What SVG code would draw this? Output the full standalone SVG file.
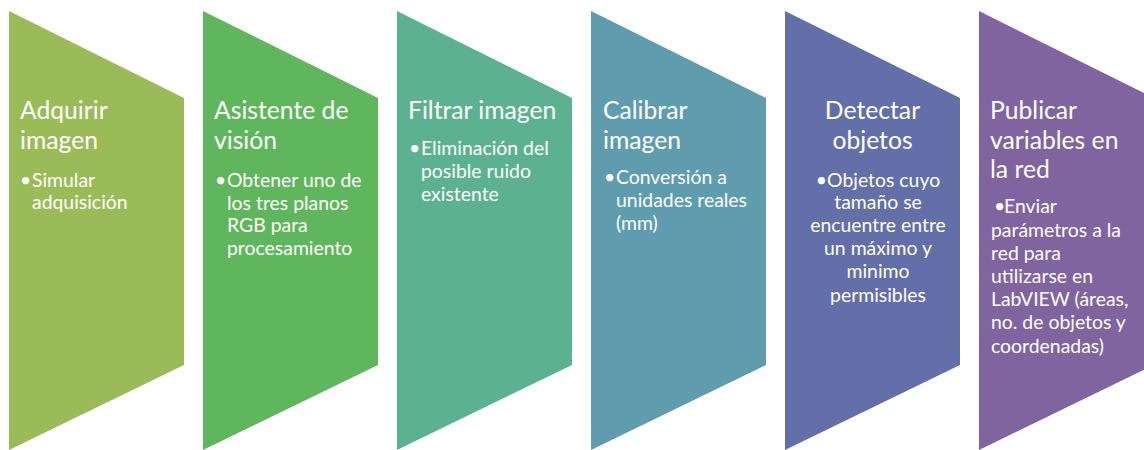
<svg xmlns="http://www.w3.org/2000/svg" width="1144" height="450" viewBox="0 0 1144 450">
<style>
text { font-family: Lato, "Open Sans", "Liberation Sans", sans-serif; fill: #ffffff; }
.t { font-size: 24.7px; }
.b { font-size: 19.4px; }
.c { text-anchor: middle; }
</style>
<defs>
<path id="chev" d="M0,11 L175,98 L175,365 L0,450 Z"/>
</defs>
<rect width="1144" height="450" fill="#ffffff"/>
<g id="node1">
<use href="#chev" x="9" fill="#9BBB59"/>
<text class="t" x="20" y="119">Adquirir</text>
<text class="t" x="20" y="149">imagen</text>
<text class="b" x="20" y="187">•</text>
<text class="b" x="32" y="187">Simular</text>
<text class="b" x="32" y="209">adquisición</text>
</g>
<g id="node2">
<use href="#chev" x="203" fill="#60B65C"/>
<text class="t" x="214" y="119">Asistente de</text>
<text class="t" x="214" y="149">visión</text>
<text class="b" x="215" y="187">•</text>
<text class="b" x="227" y="187">Obtener uno de</text>
<text class="b" x="227" y="209.5">los tres planos</text>
<text class="b" x="227" y="232">RGB para</text>
<text class="b" x="227" y="255">procesamiento</text>
</g>
<g id="node3">
<use href="#chev" x="397" fill="#5CB290"/>
<text class="t" x="408" y="119">Filtrar imagen</text>
<text class="b" x="409" y="155">•</text>
<text class="b" x="421" y="155">Eliminación del</text>
<text class="b" x="421" y="178">posible ruido</text>
<text class="b" x="421" y="201">existente</text>
</g>
<g id="node4">
<use href="#chev" x="591" fill="#5F9CAE"/>
<text class="t" x="603" y="119">Calibrar</text>
<text class="t" x="603" y="149">imagen</text>
<text class="b" x="604" y="184">•</text>
<text class="b" x="616" y="184">Conversión a</text>
<text class="b" x="616" y="207">unidades reales</text>
<text class="b" x="616" y="230">(mm)</text>
</g>
<g id="node5">
<use href="#chev" x="785" fill="#626FA8"/>
<text class="t c" x="872.5" y="119">Detectar</text>
<text class="t c" x="872.5" y="149">objetos</text>
<text class="b c" x="878" y="186.5">•Objetos cuyo</text>
<text class="b c" x="878" y="209">tamaño se</text>
<text class="b c" x="878" y="232">encuentre entre</text>
<text class="b c" x="878" y="255">un máximo y</text>
<text class="b c" x="878" y="278">minimo</text>
<text class="b c" x="878" y="301.5">permisibles</text>
</g>
<g id="node6">
<use href="#chev" x="979" fill="#7F64A0"/>
<text class="t" x="990" y="119">Publicar</text>
<text class="t" x="990" y="149">variables en</text>
<text class="t" x="990" y="178">la red</text>
<text class="b" x="994" y="213">•</text>
<text class="b" x="1004" y="213">Enviar</text>
<text class="b" x="991" y="236.5">parámetros a la</text>
<text class="b" x="991" y="260">red para</text>
<text class="b" x="991" y="283">utilizarse en</text>
<text class="b" x="991" y="306">LabVIEW (áreas,</text>
<text class="b" x="991" y="329">no. de objetos y</text>
<text class="b" x="991" y="352.5">coordenadas)</text>
</g>
<g id="connectors"></g>
</svg>
